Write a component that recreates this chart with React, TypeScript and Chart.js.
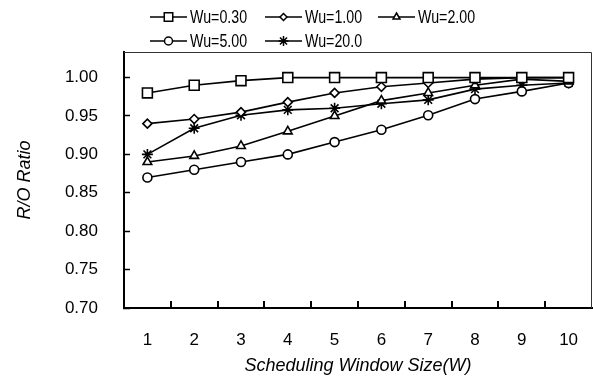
import React, { useEffect, useRef } from "react";
import { Chart, registerables } from "chart.js";
import { drawPoint } from "chart.js/helpers";

Chart.register(...registerables);

const categories = ["1", "2", "3", "4", "5", "6", "7", "8", "9", "10"];
const seriesNames = ["Wu=0.30", "Wu=1.00", "Wu=2.00", "Wu=5.00", "Wu=20.0"];
const wu030 = [0.98, 0.99, 0.996, 1.0, 1.0, 1.0, 1.0, 1.0, 1.0, 1.0];
const wu100 = [0.94, 0.946, 0.955, 0.968, 0.98, 0.988, 0.993, 0.998, 1.0, 1.0];
const wu200 = [0.89, 0.898, 0.911, 0.93, 0.95, 0.97, 0.98, 0.99, 0.998, 0.995];
const wu500 = [0.87, 0.88, 0.89, 0.9, 0.916, 0.932, 0.951, 0.972, 0.982, 0.993];
const wu2000 = [0.9, 0.934, 0.951, 0.958, 0.96, 0.966, 0.971, 0.985, 0.99, 0.993];
const yTicks = [0.7, 0.75, 0.8, 0.85, 0.9, 0.95, 1.0];

const pointStyles = ["rect", "rectRot", "triangle", "circle", "star"];
const pointRadii = [7, 4.5, 5, 4.5, 5.5];
const legendRadii = [6, 3.5, 4, 4, 5];

const FONT = "'Liberation Sans', Arial, sans-serif";

const legendPlugin = {
  id: "customLegend",
  afterDraw(chart: any) {
    const ctx = chart.ctx;
    const cols = [150, 265, 378];
    const rows = [17, 41];
    const lineLen = 37;
    ctx.save();
    chart.data.datasets.forEach((ds: any, i: number) => {
      const x = cols[i % 3];
      const y = rows[Math.floor(i / 3)];
      ctx.strokeStyle = "#000";
      ctx.lineWidth = 1.5;
      ctx.beginPath();
      ctx.moveTo(x, y);
      ctx.lineTo(x + lineLen, y);
      ctx.stroke();
      ctx.fillStyle = "#fff";
      drawPoint(ctx, { pointStyle: ds.pointStyle, radius: legendRadii[i], borderWidth: 1.5, rotation: 0 }, x + lineLen / 2, y);
      ctx.save();
      ctx.fillStyle = "#000";
      ctx.font = "18px " + FONT;
      ctx.textBaseline = "middle";
      ctx.textAlign = "left";
      ctx.translate(x + lineLen + 3, y + 1);
      ctx.scale(0.79, 1);
      ctx.fillText(ds.label, 0, 0);
      ctx.restore();
    });
    ctx.restore();
  },
};

const framePlugin = {
  id: "frame",
  beforeDatasetsDraw(chart: any) {
    const { ctx, chartArea } = chart;
    const xs = chart.scales.x;
    ctx.save();
    ctx.strokeStyle = "#333";
    ctx.lineWidth = 1;
    ctx.beginPath();
    ctx.moveTo(chartArea.left, chartArea.top + 0.5);
    ctx.lineTo(chartArea.right - 0.5, chartArea.top + 0.5);
    ctx.lineTo(chartArea.right - 0.5, chartArea.bottom);
    ctx.stroke();
    // inward ticks between categories on the x axis
    ctx.strokeStyle = "#000";
    ctx.lineWidth = 2;
    ctx.beginPath();
    for (let i = 1; i < xs.ticks.length; i++) {
      const px = Math.round((xs.getPixelForTick(i - 1) + xs.getPixelForTick(i)) / 2);
      ctx.moveTo(px, chartArea.bottom);
      ctx.lineTo(px, chartArea.bottom - 7);
    }
    ctx.stroke();
    ctx.restore();
  },
};

export default function App() {
  const ref = useRef<HTMLCanvasElement>(null);
  useEffect(() => {
    if (!ref.current) return;
    const all = [wu030, wu100, wu200, wu500, wu2000];
    const chart = new Chart(ref.current, {
      type: "line",
      data: {
        labels: categories,
        datasets: all.map((d, i) => ({
          label: seriesNames[i],
          data: d,
          borderColor: "#000",
          borderWidth: 1.6,
          pointStyle: pointStyles[i] as any,
          pointRadius: pointRadii[i],
          pointBorderColor: "#000",
          pointBackgroundColor: "#fff",
          pointBorderWidth: 1.6,
          tension: 0,
          clip: false as any,
        })),
      },
      options: {
        animation: false,
        responsive: false,
        events: [],
        layout: { autoPadding: false, padding: { top: 52, right: 1, left: 0, bottom: 0 } },
        plugins: { legend: { display: false }, tooltip: { enabled: false } },
        scales: {
          x: {
            type: "category",
            offset: true,
            afterFit(s: any) {
              s.height = 72;
            },
            grid: {
              offset: true,
              drawOnChartArea: false,
              drawTicks: true,
              tickLength: 22,
              tickColor: "rgba(0,0,0,0)",
            },
            border: { display: true, color: "#000", width: 2 },
            ticks: { color: "#000", font: { family: FONT, size: 17 }, padding: 0 },
            title: {
              display: true,
              text: "Scheduling Window Size(W)",
              color: "#000",
              font: { family: FONT, size: 18, style: "italic" },
              padding: { top: 0, bottom: 3 },
            },
          },
          y: {
            type: "linear",
            min: 0.7,
            max: 1.0333,
            afterBuildTicks(s: any) {
              s.ticks = yTicks.map((v) => ({ value: v }));
            },
            afterFit(s: any) {
              s.width = 124;
            },
            grid: {
              drawOnChartArea: false,
              drawTicks: true,
              tickLength: -6,
              tickWidth: 1.5,
              tickColor: "#000",
            },
            border: { display: true, color: "#000", width: 2 },
            ticks: {
              color: "#000",
              font: { family: FONT, size: 17 },
              padding: 32,
              callback: (v: any) => Number(v).toFixed(2),
            },
            title: {
              display: true,
              text: "R/O Ratio",
              color: "#000",
              font: { family: FONT, size: 18, style: "italic" },
              padding: { top: 14, bottom: 0 },
            },
          },
        },
      },
      plugins: [legendPlugin, framePlugin],
    });
    return () => chart.destroy();
  }, []);
  return (
    <div style={{ position: "fixed", left: 0, top: 0, width: 593, height: 380, background: "#fff" }}>
      <canvas ref={ref} width={593} height={380} style={{ width: 593, height: 380, display: "block" }} />
    </div>
  );
}
